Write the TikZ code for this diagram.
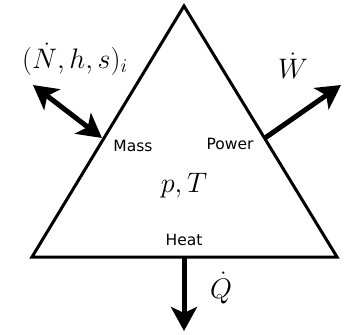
\documentclass[tikz,border=0pt]{standalone}
\usepackage{fontspec}
\setsansfont{DejaVu Sans}
\usetikzlibrary{positioning, arrows.meta}
\newcommand{\bigmath}[1]{\scalebox{1.36}{\huge$#1$}}

\begin{document}
\begin{tikzpicture}[x=1pt, y=-1pt,
      wall/.style={draw, line width=3pt, line join=miter},
      tip/.style={line width=5pt},
      flow/.style={tip, -{Stealth[length=24pt, width=26pt, inset=6pt]}},
      exchange/.style={tip, {Stealth[length=24pt, width=26pt, inset=6pt]}-{Stealth[length=24pt, width=26pt, inset=6pt]}},
      port/.style={font=\sffamily\fontsize{15.5}{18}\selectfont, inner sep=1pt},
      quantity/.style={inner sep=1pt}
    ]
      \useasboundingbox (0,0) rectangle (346,335);
      \coordinate (apex) at (184,6);
      \coordinate (bl) at (32,257);
      \coordinate (br) at (337,257);
      \draw[wall] (apex) -- (br) -- (bl) -- cycle;

      % ports on the boundary
      \coordinate (massport) at (102,138);
      \coordinate (powerport) at (265,138);
      \coordinate (heatport) at (184,257);
      \coordinate (massend) at (33,85);
      \coordinate (powerend) at (341,85);
      \coordinate (heatend) at (184,331);

      \node[port] (mass) at (133,146) {Mass};
      \node[port] (power) at (230,144) {Power};
      \node[port] (heat) at (184,240) {Heat};
      \node[quantity] (state) at (184,186) {\bigmath{p,T}};

      \draw[exchange] (massend) -- (massport);
      \draw[flow] (powerport) -- (powerend);
      \draw[flow] (heatport) -- (heatend);

      \node[quantity] (ndot) at (75,59) {\bigmath{(\dot N,h,s)_i}};
      \node[quantity] (wdot) at (293,66) {\bigmath{\dot W}};
      \node[quantity] (qdot) at (221,288) {\bigmath{\dot Q}};
    \end{tikzpicture}
\end{document}
